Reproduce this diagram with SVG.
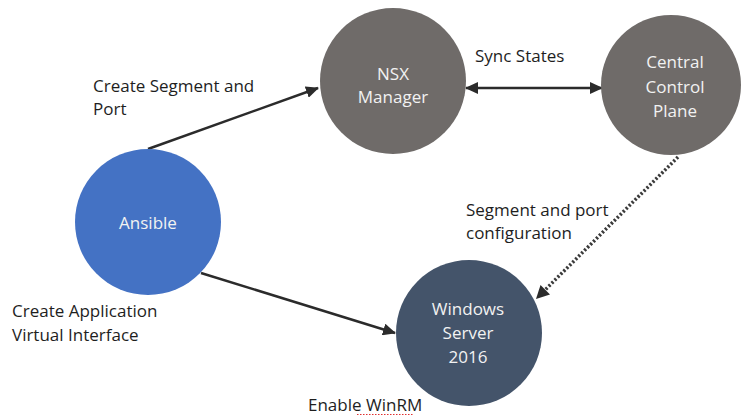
<svg xmlns="http://www.w3.org/2000/svg" width="741" height="417" viewBox="0 0 741 417">
<style>
.lbl{font-family:"Open Sans","Liberation Sans",sans-serif;font-size:17px;fill:#1e1e1e}
.nt{font-family:"Open Sans","Liberation Sans",sans-serif;font-size:17px;fill:#f2f2f2;text-anchor:middle}
.ln{stroke:#2b2b2b;stroke-width:2.5;fill:none}
.dot{stroke:#3a3a3a;stroke-width:3.5;stroke-dasharray:2.2 2;fill:none}
</style>
<defs>
<marker id="ah" markerUnits="userSpaceOnUse" markerWidth="14" markerHeight="12" refX="12" refY="6" orient="auto-start-reverse">
<path d="M0,0 L13,6 L0,12 Z" fill="#2b2b2b"/>
</marker>
</defs>
<rect width="741" height="417" fill="#ffffff"/>
<g id="connectors">
<line class="ln" x1="148" y1="149" x2="318" y2="88" marker-end="url(#ah)"/>
<line class="ln" x1="466" y1="88" x2="602" y2="88" marker-start="url(#ah)" marker-end="url(#ah)"/>
<line class="dot" x1="678" y1="157" x2="545" y2="290"/>
<path d="M536,299 L540.5,285 L550,294.5 Z" fill="#2b2b2b"/>
<line class="ln" x1="201" y1="273" x2="395" y2="333" marker-end="url(#ah)"/>
</g>
<g id="nsx">
<circle cx="393" cy="81" r="73" fill="#6f6b69"/>
<text class="nt" x="393" y="80">NSX</text>
<text class="nt" x="393" y="103">Manager</text>
</g>
<g id="ccp">
<circle cx="671" cy="85" r="70" fill="#6f6b69"/>
<text class="nt" x="675" y="68">Central</text>
<text class="nt" x="675" y="93">Control</text>
<text class="nt" x="675" y="117">Plane</text>
</g>
<g id="ansible">
<circle cx="148" cy="222" r="73" fill="#4472c4"/>
<text class="nt" x="148" y="229">Ansible</text>
</g>
<g id="windows">
<circle cx="469" cy="333" r="73" fill="#44546a"/>
<text class="nt" x="468" y="315">Windows</text>
<text class="nt" x="468" y="339">Server</text>
<text class="nt" x="468" y="363">2016</text>
</g>
<g id="labels">
<text class="lbl" x="93" y="92">Create Segment and</text>
<text class="lbl" x="93" y="115">Port</text>
<text class="lbl" x="475" y="62">Sync States</text>
<text class="lbl" x="466" y="216">Segment and port</text>
<text class="lbl" x="466" y="239">configuration</text>
<text class="lbl" x="12" y="317">Create Application</text>
<text class="lbl" x="12" y="341">Virtual Interface</text>
<text class="lbl" x="308" y="411">Enable WinRM</text>
<line x1="357" y1="414.5" x2="414" y2="414.5" stroke="#e03030" stroke-width="1.2" stroke-dasharray="1.5 1.5"/>
</g>
</svg>
